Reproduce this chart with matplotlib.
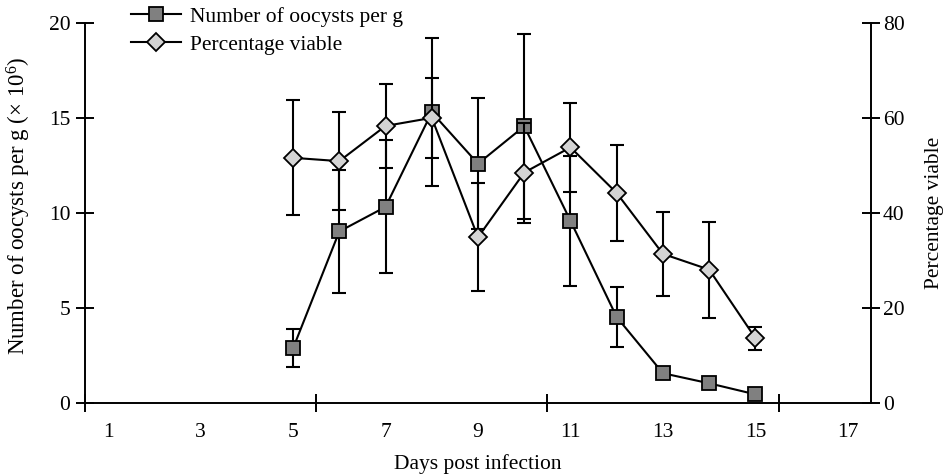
import matplotlib
matplotlib.use("Agg")
import matplotlib.pyplot as plt
from matplotlib.ticker import FixedLocator, NullFormatter, FixedFormatter

plt.rcParams['font.family'] = ['Liberation Serif', 'DejaVu Serif']
plt.rcParams['mathtext.fontset'] = 'custom'
plt.rcParams['mathtext.rm'] = 'Liberation Serif'
plt.rcParams['mathtext.it'] = 'Liberation Serif:italic'

days = [5, 6, 7, 8, 9, 10, 11, 12, 13, 14, 15]
oocysts = [2.89, 9.03, 10.32, 15.29, 12.59, 14.56, 9.59, 4.53, 1.58, 1.05, 0.47]
oocysts_err = [0.99, 3.25, 3.49, 3.88, 3.44, 4.85, 3.40, 1.56, 0.30, 0.20, 0.30]
viable = [51.6, 50.9, 58.3, 60.0, 34.9, 48.5, 53.8, 44.2, 31.4, 28.1, 13.7]
viable_err = [12.1, 10.3, 8.8, 8.45, 11.4, 10.5, 9.35, 10.1, 8.8, 10.1, 2.4]
xtick_labels = ['1', '3', '5', '7', '9', '11', '13', '15', '17']
xtick_pos = [1, 3, 5, 7, 9, 11, 13, 15, 17]
left_ticks = [0, 5, 10, 15, 20]
right_ticks = [0, 20, 40, 60, 80]

FS = 15.5
W, H = 943, 474
fig = plt.figure(figsize=(W / 100, H / 100), dpi=100)
ax = fig.add_axes([85 / W, 1 - 403.3 / H, (871 - 85) / W, (403.3 - 22.7) / H])
ax2 = ax.twinx()

lw = 1.5
# left axis (oocysts)
ax.errorbar(days, oocysts, yerr=oocysts_err, fmt='none', ecolor='black',
            elinewidth=lw, capsize=5, capthick=lw, zorder=2)
ln1, = ax.plot(days, oocysts, color='black', lw=lw, marker='s', markersize=9.5,
               markerfacecolor='#808080', markeredgecolor='black', markeredgewidth=1.3,
               zorder=3, label='Number of oocysts per g')
# right axis (viable)
ax2.errorbar(days, viable, yerr=viable_err, fmt='none', ecolor='black',
             elinewidth=lw, capsize=5, capthick=lw, zorder=2)
ln2, = ax2.plot(days, viable, color='black', lw=lw, marker='D', markersize=9,
                markerfacecolor='#d4d4d4', markeredgecolor='black', markeredgewidth=1.3,
                zorder=3, label='Percentage viable')

ax.set_xlim(0.5, 17.5)
ax.set_ylim(0, 20)
ax2.set_ylim(0, 80)

ax.xaxis.set_major_locator(FixedLocator([0.5, 5.5, 10.5, 15.5]))
ax.xaxis.set_major_formatter(NullFormatter())
ax.xaxis.set_minor_locator(FixedLocator(xtick_pos))
ax.xaxis.set_minor_formatter(FixedFormatter(xtick_labels))
ax.tick_params(axis='x', which='major', direction='inout', length=13, width=1.4)
ax.tick_params(axis='x', which='minor', length=0, pad=14, labelsize=FS)

ax.set_yticks(left_ticks)
ax.tick_params(axis='y', direction='inout', length=13, width=1.4, pad=4, labelsize=FS)
ax2.set_yticks(right_ticks)
ax2.tick_params(axis='y', direction='inout', length=13, width=1.4, pad=2, labelsize=FS)

for a in (ax, ax2):
    a.spines['top'].set_visible(False)
    for s in ('left', 'right', 'bottom'):
        a.spines[s].set_linewidth(1.4)
ax.spines['right'].set_visible(False)
ax2.spines['left'].set_visible(False)
ax2.spines['bottom'].set_visible(False)

ax.set_xlabel('Days post infection', fontsize=FS, labelpad=9)
ax.set_ylabel('Number of oocysts per g (× 10$^{6}$)', fontsize=16.5)
ax.yaxis.set_label_coords(-0.066, 0.52)
ax2.set_ylabel('Percentage viable', fontsize=FS, labelpad=15)

leg = fig.legend(handles=[ln1, ln2], loc='upper left',
                 bbox_to_anchor=(131 / W, 1 - 6.5 / H), bbox_transform=fig.transFigure,
                 frameon=False, fontsize=FS, borderpad=0, borderaxespad=0,
                 handlelength=2.3, handletextpad=0.45, labelspacing=0.37)

fig.savefig('out.png', dpi=100)
